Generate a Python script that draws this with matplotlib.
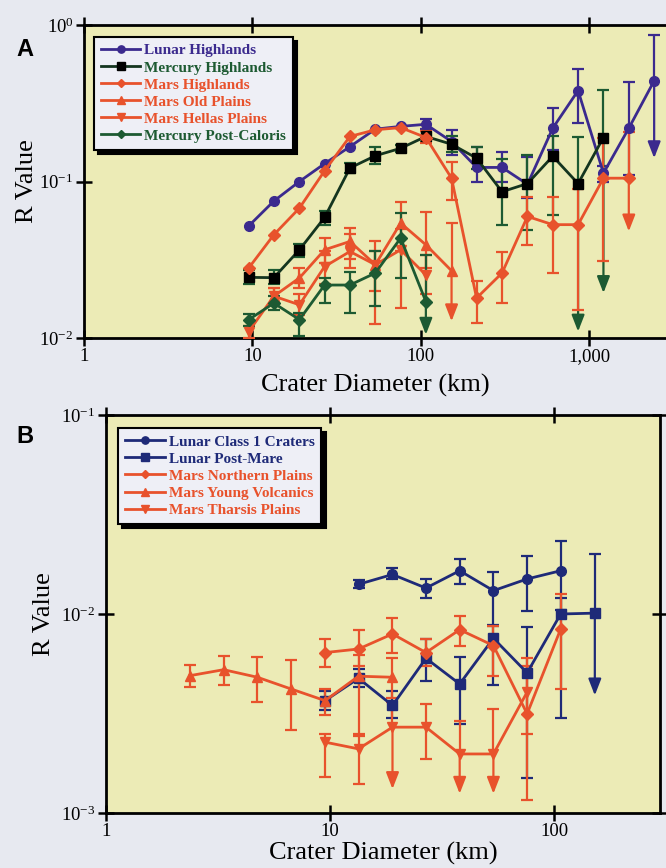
import numpy as np
import matplotlib
matplotlib.use("Agg")
import matplotlib.pyplot as plt
from matplotlib.ticker import FixedLocator, FuncFormatter, NullLocator

# ── DATA ─────────────────────────────────────────────────────────────────────
# crater diameter bin centres (km), root-2 binning
D_BINS = [2.37, 3.35, 4.74, 6.7, 9.5, 13.4, 19.0, 26.8, 37.9, 53.6, 75.8,
          107, 152, 214, 303, 429, 606, 857, 1212, 1714, 2424]

# panel A
lh_d  = D_BINS[4:21]
lh_r  = [0.052, 0.075, 0.100, 0.130, 0.167, 0.216, 0.225, 0.232, 0.180, 0.123,
         0.123, 0.096, 0.219, 0.381, 0.113, 0.219, 0.44]
lh_lo = [np.nan] * 7 + [0.215, 0.148, 0.10, 0.10, 0.078, 0.16, 0.238, 0.10, 0.11, 0.141]
lh_hi = [np.nan] * 7 + [0.25, 0.214, 0.167, 0.155, 0.144, 0.294, 0.52, 0.125, 0.435, 0.86]
lh_dn = [0] * 16 + [1]

mh_d  = D_BINS[4:19]
mh_r  = [0.0244, 0.0243, 0.0366, 0.0589, 0.122, 0.146, 0.163, 0.194, 0.173, 0.141,
         0.086, 0.097, 0.145, 0.097, 0.191]
mh_lo = [0.022, 0.022, 0.033, 0.053, 0.113, 0.130, 0.155, 0.180, 0.155, 0.12,
         0.053, 0.049, 0.061, 0.011, 0.0194]
mh_hi = [0.027, 0.027, 0.040, 0.065, 0.132, 0.165, 0.172, 0.210, 0.195, 0.167,
         0.14, 0.147, 0.194, 0.193, 0.385]
mh_dn = [0] * 13 + [1, 1]

mah_d  = D_BINS[4:20]
mah_r  = [0.028, 0.0457, 0.0676, 0.117, 0.194, 0.214, 0.221, 0.191, 0.105, 0.018,
          0.026, 0.0598, 0.053, 0.053, 0.105, 0.105]
mah_lo = [np.nan] * 7 + [0.175, 0.076, 0.0124, 0.0168, 0.0394, 0.026, 0.0152, 0.031, 0.048]
mah_hi = [np.nan] * 7 + [0.21, 0.134, 0.023, 0.0357, 0.080, 0.080, 0.09, 0.19, 0.208]
mah_dn = [0] * 15 + [1]

mop_d  = D_BINS[5:13]
mop_r  = [0.0185, 0.0242, 0.0366, 0.0414, 0.0294, 0.0542, 0.0394, 0.0269]
mop_lo = [0.0165, 0.0209, 0.030, 0.032, 0.0122, 0.036, 0.028, 0.0128]
mop_hi = [0.021, 0.028, 0.0435, 0.0504, 0.0414, 0.074, 0.064, 0.054]
mop_dn = [0] * 7 + [1]

mhp_d  = D_BINS[4:12]
mhp_r  = [0.0110, 0.0185, 0.0163, 0.0286, 0.0357, 0.0294, 0.0366, 0.0253]
mhp_lo = [0.0100, 0.0165, 0.014, 0.022, 0.028, 0.020, 0.0155, 0.019]
mhp_hi = [0.0120, 0.021, 0.019, 0.036, 0.046, 0.036, 0.050, 0.034]
mhp_dn = [0] * 8

mpc_d  = D_BINS[4:12]
mpc_r  = [0.0131, 0.0167, 0.0131, 0.0218, 0.0218, 0.0260, 0.0435, 0.0171]
mpc_lo = [0.0120, 0.0150, 0.0103, 0.0167, 0.0144, 0.016, 0.0242, 0.0105]
mpc_hi = [0.0142, 0.0185, 0.0145, 0.024, 0.0266, 0.036, 0.063, 0.034]
mpc_dn = [0] * 7 + [1]

# panel B
lc1_d  = D_BINS[5:12]
lc1_r  = [0.0141, 0.0158, 0.0135, 0.0165, 0.0131, 0.0150, 0.0165]
lc1_lo = [0.0135, 0.0150, 0.0120, 0.0141, 0.0087, 0.0103, 0.0105]
lc1_hi = [0.0148, 0.0170, 0.0150, 0.0189, 0.0162, 0.0196, 0.0233]
lc1_dn = [0] * 7

lpm_d  = D_BINS[4:13]
lpm_r  = [0.00367, 0.00475, 0.00347, 0.00599, 0.00445, 0.00755, 0.00506, 0.0100, 0.0101]
lpm_lo = [0.0033, 0.0043, 0.0030, 0.0046, 0.0028, 0.0044, 0.0015, 0.0030, 0.0039]
lpm_hi = [0.0041, 0.0053, 0.0041, 0.0075, 0.0061, 0.0088, 0.0086, 0.0120, 0.020]
lpm_dn = [0] * 8 + [1]

mnp_d  = D_BINS[4:12]
mnp_r  = [0.0064, 0.00667, 0.00794, 0.0064, 0.00834, 0.00694, 0.00315, 0.0084]
mnp_lo = [0.0054, 0.0055, 0.0064, 0.0055, 0.0069, 0.0049, 0.00116, 0.0042]
mnp_hi = [0.0075, 0.0083, 0.0096, 0.0075, 0.0098, 0.0087, 0.0055, 0.0126]
mnp_dn = [0] * 8

myv_d  = D_BINS[0:7]
myv_r  = [0.0049, 0.00525, 0.00481, 0.0042, 0.00367, 0.00487, 0.00481]
myv_lo = [0.00428, 0.0044, 0.00363, 0.00262, 0.0031, 0.0025, 0.0038]
myv_hi = [0.00554, 0.00618, 0.00606, 0.0059, 0.0042, 0.0062, 0.0060]
myv_dn = [0] * 7

mtp_d  = D_BINS[4:11]
mtp_r  = [0.00227, 0.0021, 0.0027, 0.0027, 0.00198, 0.00198, 0.00405]
mtp_lo = [0.00151, 0.0014, 0.00132, 0.00186, 0.00125, 0.00125, 0.0025]
mtp_hi = [0.0025, 0.00245, 0.0036, 0.00351, 0.00291, 0.00333, 0.0060]
mtp_dn = [0, 0, 1, 0, 1, 1, 0]

# ── STYLE ────────────────────────────────────────────────────────────────────
LUNAR  = "#3b2a8e"
NAVY   = "#1e2a78"
MERC   = "#1d5a32"
MERC_L = "#14351f"
MARS   = "#e8522c"
AX_BG  = "#ecebb6"
FIG_BG = "#e7e9f0"
LEG_BG = "#eeeff6"

plt.rcParams["font.family"] = ["Liberation Serif", "DejaVu Serif"]
plt.rcParams["mathtext.fontset"] = "custom"
plt.rcParams["mathtext.rm"] = "Liberation Serif"
plt.rcParams["mathtext.it"] = "Liberation Serif"


def series(ax, d, r, lo, hi, dn, color, marker, label, mfc=None, lcolor=None):
    d, r, lo, hi = map(np.asarray, (d, r, lo, hi))
    dn = np.asarray(dn, bool)
    mfc = mfc or color
    ax.plot(d, r, color=lcolor or color, lw=2.0, marker=marker, ms=7 if marker != "D" else 6,
            mfc=mfc, mec=mfc, label=label, zorder=4)
    ok = np.isfinite(hi)
    # shaft + caps
    ax.vlines(d[ok & ~dn], lo[ok & ~dn], hi[ok & ~dn], color=color, lw=1.6, zorder=3)
    ax.vlines(d[ok & dn], r[ok & dn], hi[ok & dn], color=color, lw=1.6, zorder=3)
    ax.plot(d[ok], hi[ok], ls="none", marker="_", ms=8, mew=1.6, color=color, zorder=3)
    ax.plot(d[ok & ~dn], lo[ok & ~dn], ls="none", marker="_", ms=8, mew=1.6, color=color, zorder=3)
    # arrows for unbounded lower errors
    for x, y0, y1 in zip(d[dn], r[dn], lo[dn]):
        ax.annotate("", xy=(x, y1), xytext=(x, y0),
                    arrowprops=dict(arrowstyle="-|>,head_length=0.9,head_width=0.35",
                                    mutation_scale=11, lw=1.6, color=color,
                                    shrinkA=0, shrinkB=0), zorder=3)


def style_axes(ax, xlim, ylim, xticks, xlabels, yticks, right=True, xpad=1):
    ax.set_xscale("log")
    ax.set_yscale("log")
    ax.set_xlim(*xlim)
    ax.set_ylim(*ylim)
    ax.set_facecolor(AX_BG)
    ax.xaxis.set_major_locator(FixedLocator(xticks))
    ax.xaxis.set_minor_locator(NullLocator())
    ax.set_xticklabels(xlabels)
    ax.yaxis.set_major_locator(FixedLocator(yticks))
    ax.yaxis.set_minor_locator(NullLocator())
    ax.yaxis.set_major_formatter(FuncFormatter(lambda v, p: r"$10^{%d}$" % round(np.log10(v))))
    for s in ax.spines.values():
        s.set_linewidth(2.0)
    ax.spines["right"].set_visible(right)
    ax.tick_params(which="major", direction="inout", length=11, width=1.8,
                   top=True, right=right, labelsize=13.5, pad=2)
    ax.set_xlabel("Crater Diameter (km)", fontsize=19, labelpad=xpad)
    ax.set_ylabel("R Value", fontsize=19)


def legend(ax, anchor, colors):
    leg = ax.legend(loc="upper left", bbox_to_anchor=anchor, borderaxespad=0,
                    fancybox=False, shadow={"color": "black", "alpha": 1.0, "ox": 3, "oy": -3},
                    facecolor=LEG_BG, edgecolor="black", framealpha=1, markerscale=0.75,
                    prop={"family": "Liberation Serif", "weight": "bold", "size": 11},
                    handlelength=2.6, handletextpad=0.25, labelspacing=0.22, borderpad=0.45)
    leg.get_frame().set_linewidth(1.5)
    for t, c in zip(leg.get_texts(), colors):
        t.set_color(c)
    return leg


fig = plt.figure(figsize=(6.66, 8.68), dpi=100, facecolor=FIG_BG)

# ── PANEL A ──────────────────────────────────────────────────────────────────
axA = fig.add_axes([84 / 666, 1 - 338 / 868, 582 / 666, 313 / 868])
series(axA, lh_d, lh_r, lh_lo, lh_hi, lh_dn, LUNAR, "o", "Lunar Highlands")
series(axA, mh_d, mh_r, mh_lo, mh_hi, mh_dn, MERC, "s", "Mercury Highlands",
       mfc="black", lcolor=MERC_L)
series(axA, mah_d, mah_r, mah_lo, mah_hi, mah_dn, MARS, "D", "Mars Highlands")
series(axA, mop_d, mop_r, mop_lo, mop_hi, mop_dn, MARS, "^", "Mars Old Plains")
series(axA, mhp_d, mhp_r, mhp_lo, mhp_hi, mhp_dn, MARS, "v", "Mars Hellas Plains")
series(axA, mpc_d, mpc_r, mpc_lo, mpc_hi, mpc_dn, MERC, "D", "Mercury Post-Caloris")
style_axes(axA, (1, 2850), (0.01, 1.0), [1, 10, 100, 1000], ["1", "10", "100", "1,000"],
           [0.01, 0.1, 1.0], right=False, xpad=6)
axA.yaxis.set_label_coords(-0.079, 0.5)
legend(axA, (0.017, 0.962), [LUNAR, MERC, MARS, MARS, MARS, MERC])
fig.text(25 / 666, 1 - 50 / 868, "A", fontsize=17, fontweight="bold",
         family="Liberation Sans", ha="center", va="center")

# ── PANEL B ──────────────────────────────────────────────────────────────────
axB = fig.add_axes([106 / 666, 1 - 813 / 868, 554 / 666, 398 / 868])
series(axB, lc1_d, lc1_r, lc1_lo, lc1_hi, lc1_dn, NAVY, "o", "Lunar Class 1 Craters")
series(axB, lpm_d, lpm_r, lpm_lo, lpm_hi, lpm_dn, NAVY, "s", "Lunar Post-Mare")
series(axB, mnp_d, mnp_r, mnp_lo, mnp_hi, mnp_dn, MARS, "D", "Mars Northern Plains")
series(axB, myv_d, myv_r, myv_lo, myv_hi, myv_dn, MARS, "^", "Mars Young Volcanics")
series(axB, mtp_d, mtp_r, mtp_lo, mtp_hi, mtp_dn, MARS, "v", "Mars Tharsis Plains")
style_axes(axB, (1, 297), (0.001, 0.1), [1, 10, 100], ["1", "10", "100"],
           [0.001, 0.01, 0.1], xpad=1)
axB.yaxis.set_label_coords(-0.092, 0.5)
legend(axB, (0.022, 0.967), [NAVY, NAVY, MARS, MARS, MARS])
fig.text(25 / 666, 1 - 436 / 868, "B", fontsize=17, fontweight="bold",
         family="Liberation Sans", ha="center", va="center")

fig.savefig("out.png", dpi=100, facecolor=FIG_BG)
